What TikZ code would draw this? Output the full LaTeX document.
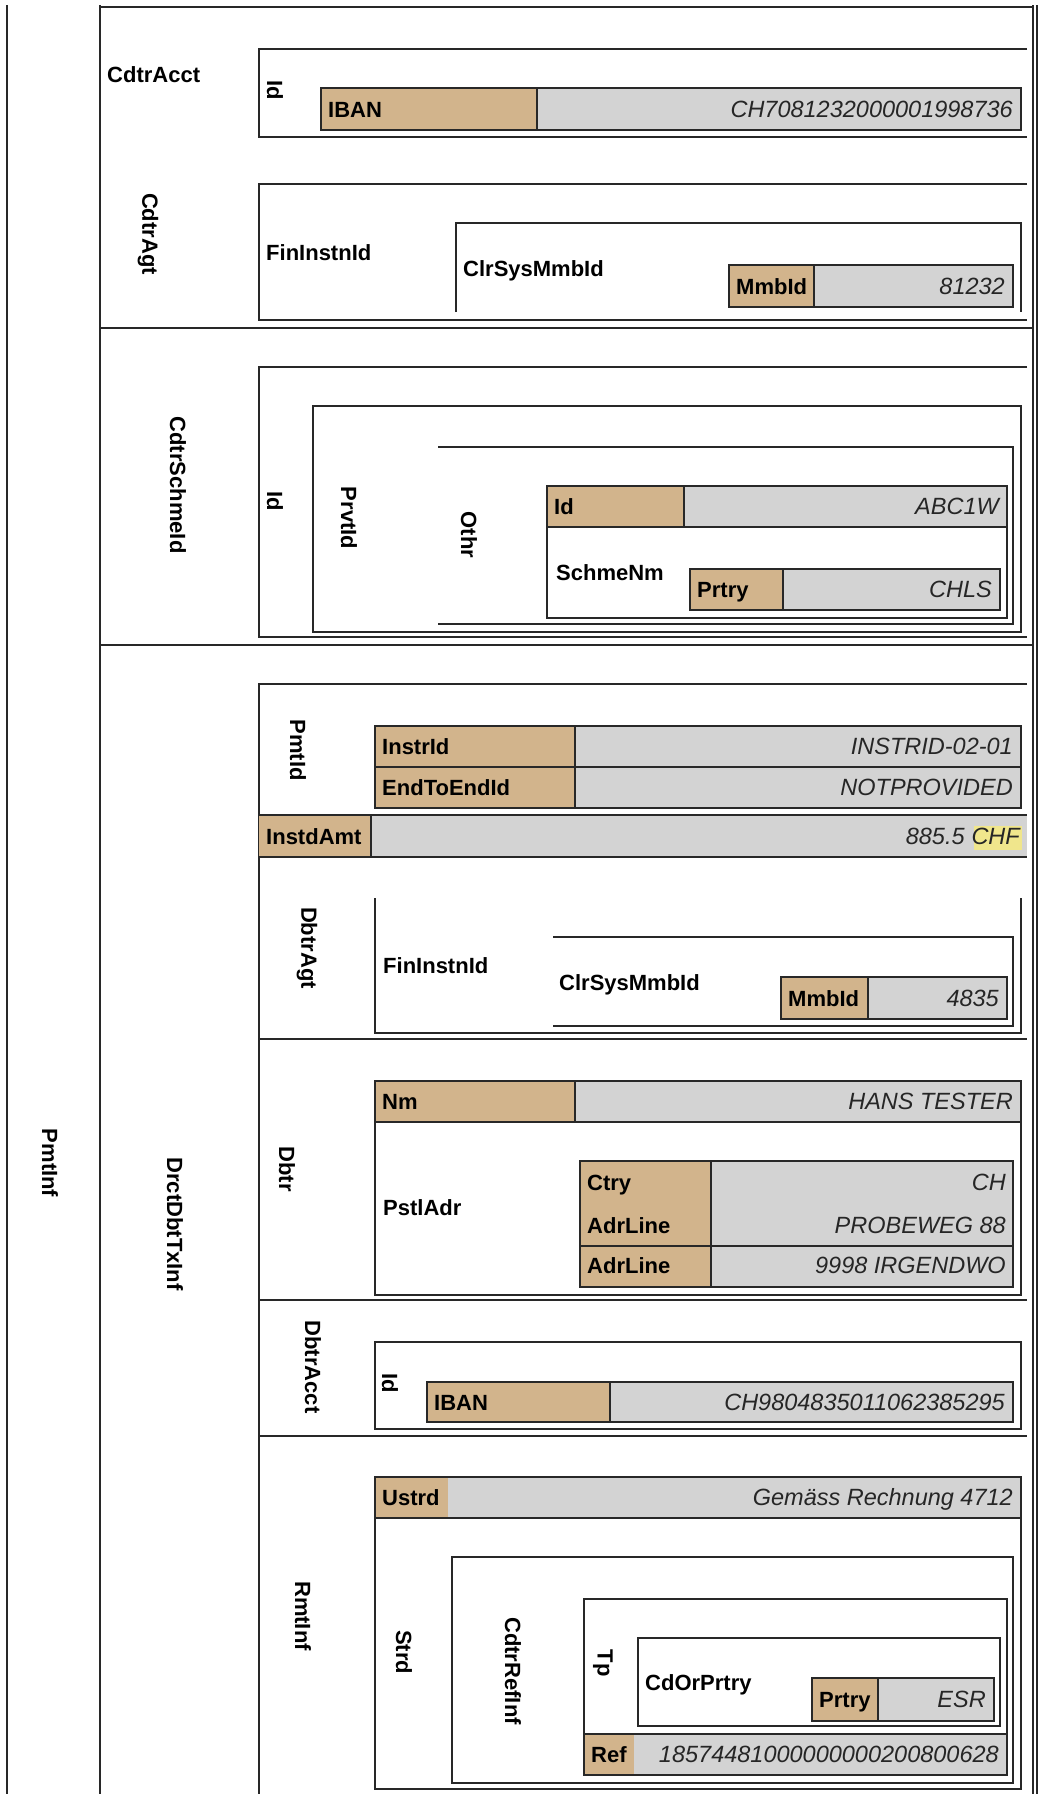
\documentclass[tikz,border=0pt]{standalone}
\usepackage{fontspec}
\setmainfont{Liberation Sans}

\definecolor{keycol}{RGB}{210,180,140}
\definecolor{valcol}{RGB}{211,211,211}
\definecolor{curcol}{RGB}{240,230,140}
\definecolor{rulecol}{RGB}{40,40,40}

\tikzset{
  ln/.style={draw=rulecol, line width=1.5pt},
  keytxt/.style={font=\bfseries\fontsize{22}{26}\selectfont, anchor=base west, inner sep=0pt, text=black},
  valtxt/.style={font=\itshape\fontsize{23.5}{28}\selectfont, anchor=base east, inner sep=0pt, text=black!85},
  vlabel/.style={font=\bfseries\fontsize{22}{26}\selectfont, rotate=-90, inner sep=0pt, text=black},
}

% key/value row: left, divider, right, top, bottom, key, value, name
\newcommand{\kvrow}[8]{%
  \fill[keycol] (#1,#4) rectangle (#2,#5);
  \fill[valcol] (#2,#4) rectangle (#3,#5);
  \draw[ln] (#1,#4) rectangle (#3,#5) (#2,#4) -- (#2,#5);
  \node[keytxt] (#8-key) at ({#1+7},{(#4+#5)/2+8}) {#6};
  \node[valtxt] (#8-val) at ({#3-8},{(#4+#5)/2+8}) {#7};
}
% same row without the dividing rule
\newcommand{\kvrowopen}[8]{%
  \fill[keycol] (#1,#4) rectangle (#2,#5);
  \fill[valcol] (#2,#4) rectangle (#3,#5);
  \draw[ln] (#1,#4) rectangle (#3,#5);
  \node[keytxt] (#8-key) at ({#1+7},{(#4+#5)/2+8}) {#6};
  \node[valtxt] (#8-val) at ({#3-8},{(#4+#5)/2+8}) {#7};
}

\begin{document}
\begin{tikzpicture}[x=1pt,y=-1pt]
\useasboundingbox (0,0) rectangle (1057,1794);
\fill[white] (0,0) rectangle (1057,1794);

% ---- outer frame ----
\draw[ln] (7,5) -- (7,1794);
\draw[ln] (100,5) -- (100,1794);
\draw[ln] (100,7) -- (1033,7);
\draw[ln] (1033,5) -- (1033,1794);
\draw[ln] (1037,5) -- (1037,1794);
\draw[ln] (100,328) -- (1033,328);
\draw[ln] (100,645) -- (1033,645);

\node[vlabel] (pmtinf) at (50,1163) {PmtInf};

% ---- CdtrAcct ----
\node[keytxt] (cdtracct) at (107,82.5) {CdtrAcct};
\draw[ln] (1027,49) -- (259,49) -- (259,137) -- (1027,137);
\node[vlabel] (cdtracct-id) at (275,90) {Id};
\kvrow{321}{537}{1021}{88}{130}{IBAN}{CH7081232000001998736}{cdtriban}

% ---- CdtrAgt ----
\node[vlabel] (cdtragt) at (148,234) {CdtrAgt};
\draw[ln] (1027,184) -- (259,184) -- (259,320) -- (1027,320);
\node[keytxt] (cdtrfin) at (266,260) {FinInstnId};
\draw[ln] (456,312) -- (456,223) -- (1021,223) -- (1021,312);
\node[keytxt] (cdtrclr) at (463,276) {ClrSysMmbId};
\kvrow{729}{814}{1013}{265}{307}{MmbId}{81232}{cdtrmmb}

% ---- CdtrSchmeId ----
\node[vlabel] (schmeid) at (178,485) {CdtrSchmeId};
\draw[ln] (1027,367) -- (259,367) -- (259,637) -- (1027,637);
\node[vlabel] (schme-id) at (275,501) {Id};
\draw[ln] (313,406) rectangle (1021,632);
\node[vlabel] (prvtid) at (349,518) {PrvtId};
\draw[ln] (438,447) -- (1013,447) -- (1013,624) -- (438,624);
\node[vlabel] (othr) at (469,535) {Othr};
\kvrow{547}{684}{1007}{486}{527}{Id}{ABC1W}{othrid}
\draw[ln] (547,527) rectangle (1007,618);
\node[keytxt] (schmenm) at (556,580) {SchmeNm};
\kvrow{690}{783}{1000}{569}{610}{Prtry}{CHLS}{schmeprtry}

% ---- DrctDbtTxInf ----
\node[vlabel] (drctdbt) at (175,1224) {DrctDbtTxInf};
\draw[ln] (1027,684) -- (259,684) -- (259,1794);

% PmtId
\node[vlabel] (pmtid) at (298,750) {PmtId};
\kvrow{375}{575}{1021}{726}{767}{InstrId}{INSTRID-02-01}{instrid}
\kvrow{375}{575}{1021}{767}{808}{EndToEndId}{NOTPROVIDED}{e2eid}

% InstdAmt
\fill[keycol] (259,815) rectangle (371,857);
\fill[valcol] (371,815) rectangle (1027,857);
\draw[ln] (259,815) -- (1027,815) (259,857) -- (1027,857) (371,815) -- (371,857);
\node[keytxt] (instdamt) at (266,844) {InstdAmt};
\fill[curcol] (974,826) rectangle (1022,850);
\node[valtxt] (amtccy) at (1020,844) {CHF};
\node[valtxt] (amtval) at ([xshift=-6.5pt]amtccy.base west) {885.5};

% DbtrAgt
\node[vlabel] (dbtragt) at (307,948) {DbtrAgt};
\draw[ln] (375,898) -- (375,1033) -- (1021,1033) -- (1021,898);
\node[keytxt] (dbtrfin) at (383,973) {FinInstnId};
\draw[ln] (553,937) -- (1013,937) -- (1013,1026) -- (553,1026);
\node[keytxt] (dbtrclr) at (559,990) {ClrSysMmbId};
\kvrow{781}{868}{1007}{977}{1019}{MmbId}{4835}{dbtrmmb}
\draw[ln] (259,1039) -- (1027,1039);

% Dbtr
\node[vlabel] (dbtr) at (287,1169) {Dbtr};
\kvrow{375}{575}{1021}{1081}{1122}{Nm}{HANS TESTER}{dbtrnm}
\draw[ln] (375,1122) rectangle (1021,1295);
\node[keytxt] (pstladr) at (383,1215) {PstlAdr};
\fill[keycol] (580,1161) rectangle (711,1287);
\fill[valcol] (711,1161) rectangle (1013,1287);
\draw[ln] (580,1161) rectangle (1013,1287) (711,1161) -- (711,1287) (580,1246) -- (1013,1246);
\node[keytxt] (ctry) at (587,1190) {Ctry};
\node[valtxt] (ctry-val) at (1006,1190) {CH};
\node[keytxt] (adrline1) at (587,1233) {AdrLine};
\node[valtxt] (adrline1-val) at (1006,1233) {PROBEWEG 88};
\node[keytxt] (adrline2) at (587,1273) {AdrLine};
\node[valtxt] (adrline2-val) at (1006,1273) {9998 IRGENDWO};
\draw[ln] (259,1300) -- (1027,1300);

% DbtrAcct
\node[vlabel] (dbtracct) at (313,1367) {DbtrAcct};
\draw[ln] (375,1342) rectangle (1021,1429);
\node[vlabel] (dbtracct-id) at (390,1383) {Id};
\kvrow{427}{610}{1013}{1382}{1422}{IBAN}{CH9804835011062385295}{dbtriban}
\draw[ln] (259,1436) -- (1027,1436);

% RmtInf
\node[vlabel] (rmtinf) at (303,1616) {RmtInf};
\kvrowopen{375}{448}{1021}{1477}{1518}{Ustrd}{Gemäss Rechnung 4712}{ustrd}
\draw[ln] (375,1518) rectangle (1021,1789);
\node[vlabel] (strd) at (404,1652) {Strd};
\draw[ln] (452,1557) rectangle (1013,1783);
\node[vlabel] (cdtrrefinf) at (513,1671) {CdtrRefInf};
\draw[ln] (584,1599) rectangle (1007,1775);
\node[vlabel] (tp) at (603,1663) {Tp};
\draw[ln] (638,1638) rectangle (1000,1726);
\node[keytxt] (cdorprtry) at (645,1690) {CdOrPrtry};
\kvrow{812}{878}{994}{1678}{1721}{Prtry}{ESR}{tpprtry}
\kvrowopen{584}{634}{1007}{1734}{1775}{Ref}{18574481000000000200800628}{ref}

\end{tikzpicture}
\end{document}
